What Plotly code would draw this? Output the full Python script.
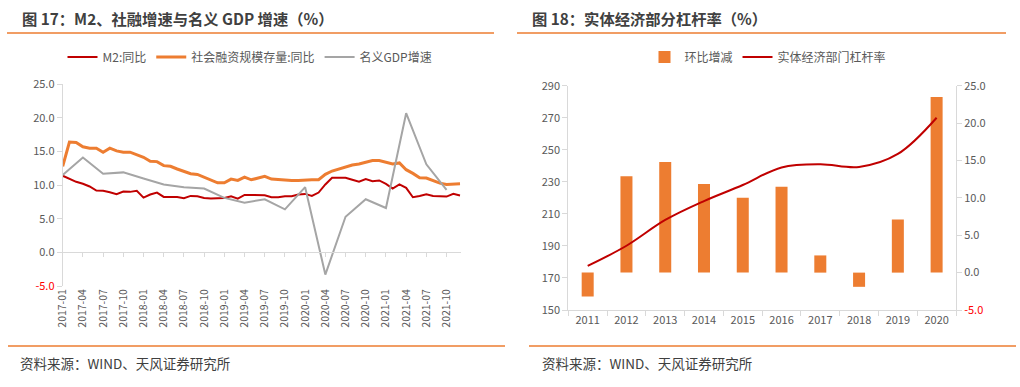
import plotly.graph_objects as go

# ---------------- Data: left chart (图17) ----------------
months = [f"{y}-{m:02d}" for y in range(2017, 2022) for m in range(1, 13)]

m2_yoy = [11.4, 10.9, 10.5, 10.2, 9.8, 9.2, 9.15, 8.95, 8.65, 9.05, 9.0, 9.15,
          8.15, 8.6, 8.9, 8.25, 8.25, 8.25, 8.05, 8.4, 8.35, 8.1, 8.0, 8.0,
          8.1, 8.35, 8.0, 8.55, 8.5, 8.5, 8.5, 8.2, 8.2, 8.35, 8.35, 8.6,
          8.7, 8.4, 8.9, 10.1, 11.1, 11.1, 11.1, 10.8, 10.5, 10.9, 10.6, 10.7,
          10.2, 9.5, 10.1, 9.6, 8.2, 8.4, 8.65, 8.4, 8.3, 8.3, 8.7, 8.45]

tsf_yoy = [12.8, 16.4, 16.35, 15.7, 15.5, 15.5, 14.9, 15.5, 15.1, 14.9, 14.9, 14.5,
           14.15, 13.55, 13.5, 12.9, 12.8, 12.4, 12.0, 11.7, 11.6, 11.2, 10.7, 10.35,
           10.35, 10.9, 10.7, 11.2, 10.8, 11.0, 11.3, 10.9, 10.8, 10.7, 10.7, 10.7,
           10.8, 10.8, 10.8, 11.6, 12.1, 12.4, 12.8, 13.0, 13.15, 13.4, 13.65, 13.65,
           13.4, 13.15, 13.3, 12.3, 11.75, 11.1, 11.05, 10.7, 10.3, 10.1, 10.1, 10.2]

gdp_quarters = ["2017-01", "2017-04", "2017-07", "2017-10", "2018-01", "2018-04", "2018-07",
                "2018-10", "2019-01", "2019-04", "2019-07", "2019-10", "2020-01", "2020-04",
                "2020-07", "2020-10", "2021-01", "2021-04", "2021-07", "2021-10"]
gdp_nominal = [11.5, 14.1, 11.7, 11.9, 11.0, 10.1, 9.7, 9.5, 8.1, 7.4,
               7.9, 6.4, 9.7, -3.3, 5.3, 7.9, 6.6, 20.7, 13.1, 9.3]

left_ticks = months[::3]
left_yticks = [-5, 0, 5, 10, 15, 20, 25]

# ---------------- Data: right chart (图18) ----------------
years = ["2011", "2012", "2013", "2014", "2015", "2016", "2017", "2018", "2019", "2020"]
qoq_change = [-3.2, 12.9, 14.8, 11.85, 10.0, 11.5, 2.3, -1.9, 7.1, 23.5]
leverage = [177.5, 190.1, 206.2, 218.0, 228.0, 239.0, 241.0, 239.3, 247.4, 270.0]
right_yticks = [-5, 0, 5, 10, 15, 20, 25]
lev_ticks = [150, 170, 190, 210, 230, 250, 270, 290]

# ---------------- Styling ----------------
W, H = 1020, 387
RED = "#C00000"
ORANGE = "#ED7D31"
GRAY = "#A5A5A5"
AXIS = "#D9D9D9"
TXT = "#595959"
FONT = "Noto Sans CJK SC"


def px(x):
    return x / W


def py(y):
    return 1 - y / H


def ytext(v):
    s = f"{v:.1f}"
    return f"<span style='color:#FF0000'>{s}</span>" if v < 0 else s


fig = go.Figure()

# Left chart traces
fig.add_trace(go.Scatter(x=months, y=m2_yoy, name="M2:同比", mode="lines",
                         line=dict(color=RED, width=2), xaxis="x", yaxis="y", legend="legend"))
fig.add_trace(go.Scatter(x=months, y=tsf_yoy, name="社会融资规模存量:同比", mode="lines",
                         line=dict(color=ORANGE, width=3), xaxis="x", yaxis="y", legend="legend"))
fig.add_trace(go.Scatter(x=gdp_quarters, y=gdp_nominal, name="名义GDP增速", mode="lines",
                         line=dict(color=GRAY, width=2), xaxis="x2", yaxis="y", legend="legend"))

# Right chart traces
fig.add_trace(go.Bar(x=years, y=qoq_change, name="环比增减", marker=dict(color=ORANGE, line=dict(width=0)),
                     width=0.31, xaxis="x3", yaxis="y2", legend="legend2"))
fig.add_trace(go.Scatter(x=years, y=leverage, name="实体经济部门杠杆率", mode="lines",
                         line=dict(color=RED, width=2, shape="spline", smoothing=1.0),
                         xaxis="x3", yaxis="y3", legend="legend2"))

L_dom_x = [px(62.7), px(460.7)]
L_dom_y = [py(286), py(84.3)]
zero_pos = L_dom_y[0] + (L_dom_y[1] - L_dom_y[0]) * (5 / 30)

R_dom_x = [px(568.3), px(956)]
R_dom_y = [py(310), py(85.7)]

tickfont = dict(family=FONT, size=11, color=TXT)

fig.update_layout(
    width=W, height=H,
    margin=dict(l=0, r=0, t=0, b=0, pad=0, autoexpand=False),
    paper_bgcolor="white", plot_bgcolor="white",
    font=dict(family=FONT, color=TXT),
    showlegend=True,
    xaxis=dict(domain=L_dom_x, anchor="y", type="category", categoryorder="array",
               categoryarray=months, range=[0, 59.1], tickmode="array", tickvals=left_ticks,
               ticktext=left_ticks, tickangle=-90, tickfont=dict(family=FONT, size=10.5, color=TXT),
               showline=False, showgrid=False, zeroline=False, ticks="", automargin=False),
    xaxis2=dict(overlaying="x", anchor="free", position=zero_pos, type="category",
                categoryorder="array", categoryarray=months, range=[0, 59.1],
                tickmode="array", tickvals=left_ticks, showticklabels=False,
                showline=True, linecolor=AXIS, linewidth=1, ticks="outside", ticklen=4,
                tickcolor=AXIS, showgrid=False, zeroline=False, automargin=False),
    yaxis=dict(domain=L_dom_y, anchor="x", range=[-5, 25], tickmode="array",
               tickvals=left_yticks, ticktext=[ytext(v) for v in left_yticks],
               tickfont=tickfont, showline=True, linecolor=AXIS, linewidth=1,
               ticks="outside", ticklen=5, tickcolor=AXIS, showgrid=False, zeroline=False,
               automargin=False),
    xaxis3=dict(domain=R_dom_x, anchor="y2", type="category", categoryorder="array",
                categoryarray=years, tickfont=tickfont, showline=True, linecolor=AXIS,
                linewidth=1, ticks="outside", ticklen=5, tickcolor=AXIS, tickson="boundaries",
                showgrid=False, zeroline=False, automargin=False),
    yaxis2=dict(domain=R_dom_y, anchor="x3", side="right", range=[-5, 25], tickmode="array",
                tickvals=right_yticks, ticktext=[ytext(v) for v in right_yticks],
                tickfont=tickfont, showline=True, linecolor=AXIS, linewidth=1,
                ticks="outside", ticklen=5, tickcolor=AXIS, showgrid=False, zeroline=False,
                automargin=False),
    yaxis3=dict(overlaying="y2", anchor="x3", side="left", range=[150, 290], tickmode="array",
                tickvals=lev_ticks, ticktext=[str(v) for v in lev_ticks],
                tickfont=tickfont, showline=True, linecolor=AXIS, linewidth=1,
                ticks="outside", ticklen=5, tickcolor=AXIS, showgrid=False, zeroline=False,
                automargin=False),
    legend=dict(orientation="h", x=px(250), xanchor="center", y=py(57), yanchor="middle",
                font=dict(family=FONT, size=12, color=TXT), bgcolor="rgba(0,0,0,0)",
                itemwidth=30, tracegroupgap=0),
    legend2=dict(orientation="h", x=px(768), xanchor="center", y=py(57), yanchor="middle",
                 font=dict(family=FONT, size=12, color=TXT), bgcolor="rgba(0,0,0,0)",
                 itemwidth=30),
)

# Titles
fig.add_annotation(text="<b>图 17：M2、社融增速与名义 GDP 增速（%）</b>", x=px(20), y=py(18),
                   xref="paper", yref="paper", xanchor="left", yanchor="middle", showarrow=False,
                   font=dict(family=FONT, size=15.3, color="#404040"))
fig.add_annotation(text="<b>图 18：实体经济部分杠杆率（%）</b>", x=px(530), y=py(18),
                   xref="paper", yref="paper", xanchor="left", yanchor="middle", showarrow=False,
                   font=dict(family=FONT, size=15.3, color="#404040"))

# Sources
for x0 in (18, 540):
    fig.add_annotation(text="资料来源：WIND、天风证券研究所", x=px(x0), y=py(363),
                       xref="paper", yref="paper", xanchor="left", yanchor="middle", showarrow=False,
                       font=dict(family=FONT, size=13.5, color="#404040"))

# Orange rule lines
for (x0, x1, yy) in [(7, 494, 33), (517, 1006, 33), (8, 505, 346), (529, 1016, 346)]:
    fig.add_shape(type="line", xref="paper", yref="paper", x0=px(x0), x1=px(x1), y0=py(yy), y1=py(yy),
                  line=dict(color=ORANGE, width=1.5))

fig.write_html("out.html", config={"displayModeBar": False},
               post_script="document.body.style.margin='0';document.body.style.overflow='hidden';")
